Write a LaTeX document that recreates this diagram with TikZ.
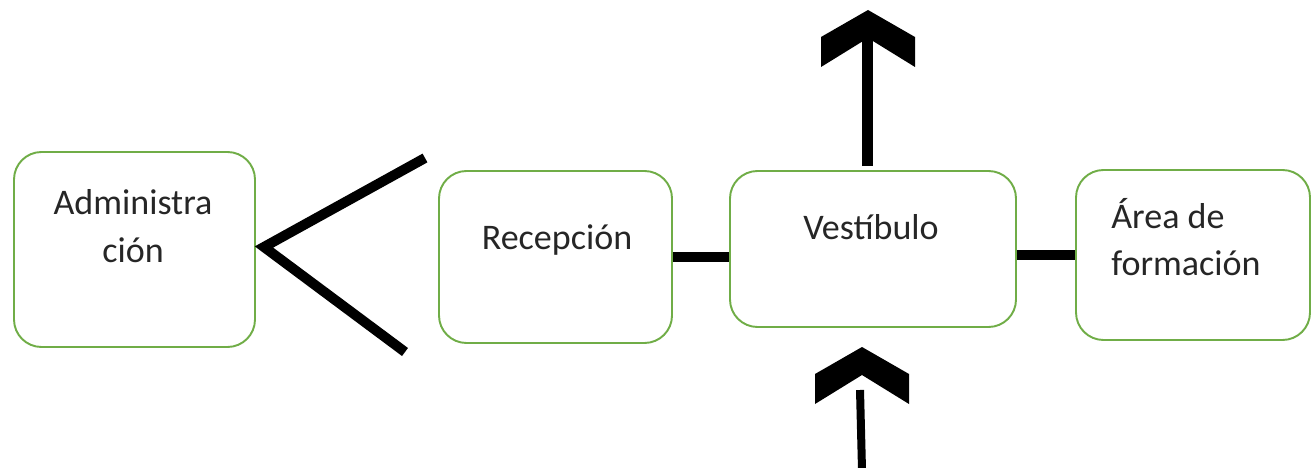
\documentclass[tikz,border=0pt]{standalone}
\usepackage{fontspec}
\setmainfont{Carlito}
\usetikzlibrary{positioning,calc}
\definecolor{boxgreen}{RGB}{112,173,71}
\newcommand \mychevron[1]
{
\fill (#1) -- ++(-0.94,-0.54) -- ++(0,-0.60) -- ++(0.94,0.58) -- ++(0.94,-0.58) -- ++(0,0.60) -- cycle; % tip at #1
}
\tikzset{
  area/.style={draw=boxgreen, line width=1.1pt, rounded corners=0.55cm},
  label text/.style={font=\fontsize{20.5}{27}\selectfont, text=black!85, align=center, inner sep=0pt},
  wall/.style={line width=0.2cm, line cap=butt}
}

\begin{document}
\begin{tikzpicture}[line join=miter]
\useasboundingbox (0,0) rectangle (26.28,-9.36);
\node[area, minimum width=4.82cm, minimum height=3.90cm] (adm) at (2.69,-4.99) {};  % Administración
\node[area, minimum width=4.66cm, minimum height=3.44cm] (rec) at (11.11,-5.14) {}; % Recepción
\node[area, minimum width=5.72cm, minimum height=3.12cm] (ves) at (17.46,-4.98) {}; % Vestíbulo
\node[area, minimum width=4.68cm, minimum height=3.40cm] (are) at (23.86,-5.10) {}; % Área de formación
\node[label text] (admtxt) at (2.66,-4.52) {Administra\\ción};
\node[label text, anchor=base] (rectxt) at (11.14,-5.00) {Recepción};
\node[label text, anchor=base] (vestxt) at (17.42,-4.80) {Vestíbulo};
\node[label text, align=left, anchor=west] (aretxt) at (22.22,-4.74) {Área de\\formación};
\coordinate (admv)    at ([xshift=0.16cm,yshift=0.05cm]adm.east);
\coordinate (admup)   at (8.50,-3.16);
\coordinate (admdown) at (8.10,-7.04);
\draw[wall] (admup) -- (admv) -- (admdown);
\draw[wall] (rec.east) -- (rec.east -| ves.west);
\draw[wall] (are.west -| ves.east) -- (are.west);
\coordinate (upfoot) at ([xshift=-0.12cm,yshift=0.08cm]ves.north);
\coordinate (uptip)  at (17.36,-0.20);
\draw[line width=0.22cm] (upfoot) -- (upfoot |- {$(uptip)+(0,-0.50)$});
\mychevron{uptip}
\coordinate (downfoot) at (17.24,-9.40);
\coordinate (downtip)  at (17.24,-6.94);
\draw[line width=0.16cm] (downfoot) -- (17.20,-7.80);
\mychevron{downtip}
\end{tikzpicture}
\end{document}
